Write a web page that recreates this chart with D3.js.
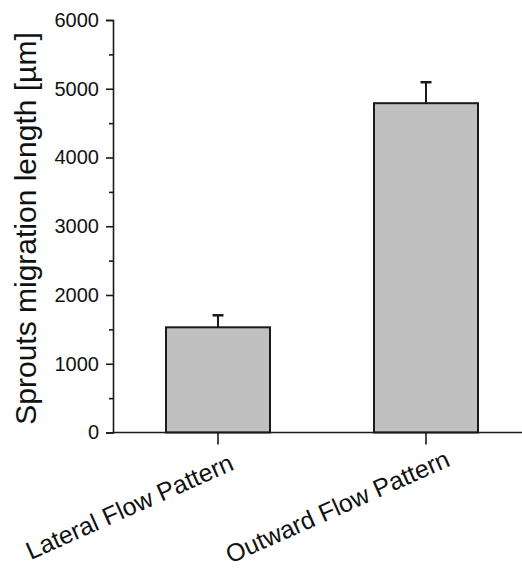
<!DOCTYPE html>
<html><head><meta charset="utf-8">
<script src="https://cdn.jsdelivr.net/npm/d3@7"></script>
<style>
html,body{margin:0;padding:0;background:#fff;}
svg{display:block;}
text{font-family:"Liberation Sans",Arial,sans-serif;fill:#111;}
</style></head>
<body>
<script>
const categories = ["Lateral Flow Pattern", "Outward Flow Pattern"];
const values = [1530, 4790];
const errors = [175, 305];
const yTicks = [0, 1000, 2000, 3000, 4000, 5000, 6000];
const yMinorTicks = [500, 1500, 2500, 3500, 4500, 5500];
const yTitle = "Sprouts migration length [µm]";

const W = 522, H = 571;
const svg = d3.select("body").append("svg").attr("width", W).attr("height", H);

const y = d3.scaleLinear().domain([0, 6000]).range([432.5, 20]);
const x = d3.scaleBand().domain(categories).range([114, 530]).paddingInner(0.5).paddingOuter(0.25);
const axisX0 = 113;
const ink = "#1a1a1a";

// bars
svg.selectAll("rect.bar").data(categories).enter().append("rect")
  .attr("class", "bar")
  .attr("x", d => x(d))
  .attr("y", (d, i) => y(values[i]))
  .attr("width", x.bandwidth())
  .attr("height", (d, i) => y(0) - y(values[i]))
  .attr("fill", "#c0c0c0")
  .attr("stroke", ink)
  .attr("stroke-width", 2);

// error bars (upper only)
const eb = svg.selectAll("g.err").data(categories).enter().append("g").attr("class", "err");
eb.append("line")
  .attr("x1", d => x(d) + x.bandwidth() / 2).attr("x2", d => x(d) + x.bandwidth() / 2)
  .attr("y1", (d, i) => y(values[i])).attr("y2", (d, i) => y(values[i] + errors[i]))
  .attr("stroke", ink).attr("stroke-width", 2);
eb.append("line")
  .attr("x1", d => x(d) + x.bandwidth() / 2 - 5.5).attr("x2", d => x(d) + x.bandwidth() / 2 + 5.5)
  .attr("y1", (d, i) => y(values[i] + errors[i])).attr("y2", (d, i) => y(values[i] + errors[i]))
  .attr("stroke", ink).attr("stroke-width", 2.5);

// y axis
const yAxis = d3.axisLeft(y).tickValues(yTicks).tickSize(7).tickPadding(7).tickFormat(d3.format("d"));
const gy = svg.append("g").attr("transform", `translate(${axisX0},0)`).call(yAxis);
gy.select(".domain").attr("stroke", ink).attr("stroke-width", 1.6);
gy.selectAll(".tick line").attr("stroke", ink).attr("stroke-width", 1.6);
gy.selectAll(".tick text").attr("font-size", 20).attr("font-family", '"Liberation Sans",Arial,sans-serif').attr("fill", "#111");

const yMinor = d3.axisLeft(y).tickValues(yMinorTicks).tickSize(4).tickFormat("");
const gym = svg.append("g").attr("transform", `translate(${axisX0},0)`).call(yMinor);
gym.select(".domain").remove();
gym.selectAll(".tick line").attr("stroke", ink).attr("stroke-width", 1.6);

// x axis
const xAxis = d3.axisBottom(x).tickSize(12).tickSizeOuter(0).tickFormat("");
const gx = svg.append("g").attr("transform", `translate(0,${y(0)})`).call(xAxis);
gx.select(".domain").attr("d", `M${axisX0},0H530`).attr("stroke", ink).attr("stroke-width", 1.6);
gx.selectAll(".tick line").attr("stroke", ink).attr("stroke-width", 1.6);

// x labels rotated
svg.selectAll("text.xlab").data(categories).enter().append("text")
  .attr("class", "xlab")
  .attr("text-anchor", "middle")
  .attr("font-size", 25)
  .attr("transform", d => `translate(${x(d) + x.bandwidth() / 2 - 85},${y(0) + 82}) rotate(-24)`)
  .text(d => d);

// y title
svg.append("text")
  .attr("text-anchor", "middle")
  .attr("font-size", 30)
  .attr("transform", `translate(36,228.5) rotate(-90)`)
  .text(yTitle);
</script>
</body></html>
